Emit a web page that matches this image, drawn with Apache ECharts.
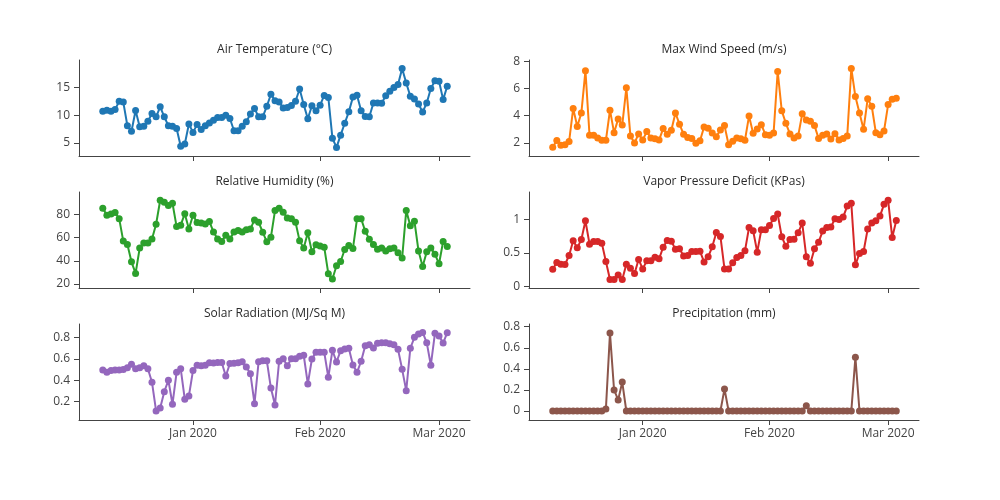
<!DOCTYPE html>
<html><head><meta charset="utf-8">
<script src="https://cdn.jsdelivr.net/npm/echarts@6/dist/echarts.min.js"></script>
<style>html,body{margin:0;padding:0;background:#fff}#c{width:1000px;height:500px}</style>
</head><body><div id="c"></div>
<script>
// ---- data (daily, 2019-12-10 .. 2020-03-03) ----
const startDate = '2019-12-10';
const nDays = 85;
const titles = ['Air Temperature (°C)','Max Wind Speed (m/s)','Relative Humidity (%)','Vapor Pressure Deficit (KPas)','Solar Radiation (MJ/Sq M)','Precipitation (mm)'];
const xTickDates = ['2020-01-01','2020-02-01','2020-03-01'];
const xTickLabels = ['Jan 2020','Feb 2020','Mar 2020'];

const airTemp = [10.7,10.9,10.7,11.0,12.5,12.35,8.1,7.1,10.85,7.9, 8.0,8.9,10.3,9.7,11.5,9.7,8.1,8.0,7.6,4.4, 4.8,8.4,6.9,8.3,7.4,8.1,8.6,9.1,9.6,9.6, 10.0,9.4,7.2,7.2,8.0,8.8,10.2,11.2,9.7,9.7, 11.6,13.75,12.6,12.35,11.3,11.4,11.75,12.5,14.7,11.9, 9.35,11.7,10.8,11.8,13.55,13.2,5.85,4.2,6.4,8.55, 10.6,13.25,13.6,10.8,9.75,9.7,12.2,12.2,12.15,13.5, 14.3,15.0,15.5,18.4,15.8,13.4,12.9,12.0,10.55,12.2, 14.8,16.2,16.1,12.8,15.2];
const windSpeed = [1.68,2.17,1.82,1.87,2.1,4.52,3.2,4.2,7.3,2.56, 2.56,2.36,2.19,2.19,4.4,2.75,3.76,3.32,6.04,2.5, 2.0,2.66,2.21,2.83,2.36,2.31,2.21,3.05,2.63,2.93, 4.2,3.37,2.63,2.4,2.33,1.97,2.15,3.17,3.08,2.73, 2.45,2.95,3.27,1.87,2.12,2.36,2.3,2.2,3.98,2.7, 3.02,3.34,2.6,2.56,2.73,7.24,4.35,3.44,2.66,2.36, 2.5,4.13,3.68,3.58,3.27,2.33,2.56,2.66,2.28,2.68, 2.21,2.33,2.5,7.46,5.4,4.2,3.0,5.23,4.69,2.75, 2.6,2.88,4.81,5.2,5.28];
const relHumidity = [85.1,79.1,80.3,81.4,76.2,56.9,54.0,39.1,29.1,50.9, 55.2,55.2,58.8,71.4,92.0,90.3,87.4,89.4,69.4,70.6, 80.5,67.4,79.1,72.8,72.5,71.7,73.7,64.8,58.8,56.6, 62.0,58.8,64.8,66.0,64.8,66.6,67.4,75.1,73.1,64.6, 56.3,60.3,83.1,85.1,81.7,76.8,76.2,73.1,57.1,50.9, 64.0,47.7,53.7,52.6,51.7,28.9,24.3,35.7,39.4,49.7, 53.1,50.5,76.2,76.2,65.4,58.6,54.0,50.0,50.9,48.3, 50.3,50.9,46.9,42.3,83.1,70.0,74.0,48.3,35.1,47.7, 50.9,45.7,37.4,56.6,52.3];
const vpd = [0.254,0.354,0.33,0.325,0.46,0.68,0.575,0.70,0.98,0.63, 0.67,0.67,0.645,0.37,0.10,0.10,0.17,0.10,0.33,0.27, 0.19,0.40,0.26,0.38,0.38,0.434,0.41,0.584,0.685,0.675, 0.554,0.56,0.454,0.46,0.52,0.52,0.525,0.364,0.44,0.59, 0.805,0.745,0.26,0.26,0.35,0.43,0.46,0.53,0.88,0.83, 0.51,0.845,0.845,0.91,1.015,1.08,0.74,0.60,0.70,0.705, 0.80,0.945,0.44,0.344,0.56,0.66,0.825,0.88,0.885,1.01, 1.0,1.035,1.2,1.24,0.32,0.49,0.52,0.855,0.945,0.98, 1.05,1.225,1.285,0.73,0.985];
const solarRad = [0.496,0.474,0.49,0.496,0.496,0.50,0.517,0.549,0.508,0.517, 0.536,0.508,0.381,0.114,0.142,0.294,0.40,0.177,0.474,0.508, 0.223,0.254,0.49,0.54,0.536,0.54,0.564,0.56,0.566,0.566, 0.44,0.555,0.558,0.564,0.573,0.524,0.461,0.182,0.573,0.582, 0.582,0.327,0.17,0.577,0.60,0.536,0.60,0.60,0.623,0.633, 0.366,0.598,0.66,0.662,0.662,0.428,0.679,0.57,0.676,0.691, 0.698,0.542,0.474,0.577,0.722,0.731,0.70,0.744,0.75,0.75, 0.741,0.731,0.688,0.502,0.303,0.698,0.80,0.831,0.846,0.75, 0.54,0.837,0.812,0.747,0.843];
const precip = [0,0,0,0,0,0,0,0,0,0, 0,0,0,0.02,0.74,0.2,0.105,0.275,0,0, 0,0,0,0,0,0,0,0,0,0, 0,0,0,0,0,0,0,0,0,0, 0,0,0.21,0,0,0,0,0,0,0, 0,0,0,0,0,0,0,0,0,0, 0,0,0.05,0,0,0,0,0,0,0, 0,0,0,0,0.51,0,0,0,0,0, 0,0,0,0,0];

const yTicks = [[5,10,15],[2,4,6,8],[20,40,60,80],[0,0.5,1],[0.2,0.4,0.6,0.8],[0,0.2,0.4,0.6,0.8]];
const yRanges = [[2.65,19.93],[1.04,8.08],[16.6,99.1],[-0.026,1.41],[0.03,0.924],[-0.085,0.826]];
const colors = ['#1f77b4','#ff7f0e','#2ca02c','#d62728','#9467bd','#8c564b'];
const seriesData = [airTemp, windSpeed, relHumidity, vpd, solarRad, precip];

// ---- build ----
const DAY = 86400000;
const t0 = Date.parse(startDate + 'T00:00:00Z');
const dates = [];
for (let i = 0; i < nDays; i++) dates.push(t0 + i * DAY);
const xTicks = xTickDates.map(d => Date.parse(d + 'T00:00:00Z'));
const xMin = xTicks[0] - 27.8 * DAY, xMax = xTicks[2] + 7.55 * DAY;

const FONT = '"Open Sans", verdana, arial, sans-serif';
const TXT = '#444';
const LINE = '#444';
const colLeft = [79, 529], colW = [391, 390];
const rowTop = [60, 192, 324], rowH = 96;

const grids = [], xAxes = [], yAxes = [], series = [], graphics = [];
for (let k = 0; k < 6; k++) {
  const r = Math.floor(k / 2), c = k % 2;
  grids.push({left: colLeft[c], top: rowTop[r], width: colW[c], height: rowH, containLabel: false});
  xAxes.push({
    type: 'value', gridIndex: k, min: xMin, max: xMax,
    axisLine: {show: true, onZero: false, lineStyle: {color: LINE, width: 1}},
    axisTick: {show: true, customValues: xTicks, length: 5, lineStyle: {color: LINE}},
    axisLabel: {show: r === 2, customValues: xTicks, color: TXT, fontSize: 12, fontFamily: FONT, margin: 8,
      formatter: v => { const j = xTicks.indexOf(v); return j >= 0 ? xTickLabels[j] : ''; }},
    splitLine: {show: false}
  });
  yAxes.push({
    type: 'value', gridIndex: k, min: yRanges[k][0], max: yRanges[k][1],
    axisLine: {show: true, onZero: false, lineStyle: {color: LINE, width: 1}},
    axisTick: {show: true, customValues: yTicks[k], length: 5, lineStyle: {color: LINE}},
    axisLabel: {show: true, customValues: yTicks[k], color: TXT, fontSize: 12, fontFamily: FONT, margin: 9,
      formatter: v => String(+v.toFixed(3))},
    splitLine: {show: false}
  });
  series.push({
    type: 'line', xAxisIndex: k, yAxisIndex: k, name: titles[k],
    data: dates.map((d, i) => [d, seriesData[k][i]]),
    symbol: 'circle', symbolSize: 7, showSymbol: true, showAllSymbol: true,
    lineStyle: {width: 2, color: colors[k]}, itemStyle: {color: colors[k]},
    animation: false, silent: true
  });
  graphics.push({
    type: 'text', x: colLeft[c] + colW[c] / 2, y: rowTop[r] - 10,
    style: {text: titles[k], fill: '#2a2a2a', font: '12px ' + FONT, align: 'center', verticalAlign: 'middle',
      textAlign: 'center', textVerticalAlign: 'middle'}
  });
}

const chart = echarts.init(document.getElementById('c'), null, {renderer: 'canvas'});
chart.setOption({
  animation: false,
  backgroundColor: '#fff',
  grid: grids, xAxis: xAxes, yAxis: yAxes, series: series, graphic: graphics
});
</script></body></html>
